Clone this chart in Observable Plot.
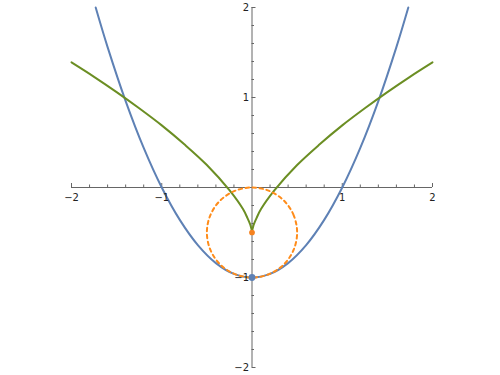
<!DOCTYPE html>
<html><head><meta charset="utf-8">
<script src="https://cdn.jsdelivr.net/npm/d3@7"></script>
<script src="https://cdn.jsdelivr.net/npm/@observablehq/plot@0.6"></script>
<style>body{margin:0;background:#fff}</style>
</head><body><div id="chart"></div>
<script>
// Blue parabola
const parabolaX = [-1.732, -1.6, -1.4, -1.2, -1.0, -0.8, -0.6, -0.4, -0.2, 0, 0.2, 0.4, 0.6, 0.8, 1.0, 1.2, 1.4, 1.6, 1.732];
const parabolaY = [2.0, 1.56, 0.96, 0.44, 0, -0.36, -0.64, -0.84, -0.96, -1, -0.96, -0.84, -0.64, -0.36, 0, 0.44, 0.96, 1.56, 2.0];
// Green curve, right branch (left branch is its mirror)
const greenX = [0, 0.005, 0.01, 0.02, 0.05, 0.1, 0.25, 0.5, 0.75, 1.0, 1.25, 1.5, 1.75, 2.0];
const greenY = [-0.5, -0.465, -0.445, -0.41, -0.34, -0.24, -0.03, 0.25, 0.48, 0.69, 0.88, 1.06, 1.23, 1.39];
// Orange dashed circle points
const circleX = [0.5, 0.462, 0.354, 0.191, 0, -0.191, -0.354, -0.462, -0.5, -0.462, -0.354, -0.191, 0, 0.191, 0.354, 0.462];
const circleY = [-0.5, -0.309, -0.146, -0.038, 0, -0.038, -0.146, -0.309, -0.5, -0.691, -0.854, -0.962, -1, -0.962, -0.854, -0.691];
// Marked points
const pointX = [0, 0];
const pointY = [-1, -0.5];
const pointColor = ["#5e81b5", "#f5821f"];
const pointR = [3.5, 2.5];
// Ticks
const majorTicks = [-2, -1, 1, 2];
const majorLabels = ["\u22122", "\u22121", "1", "2"];
const minorTicks = [-1.8, -1.6, -1.4, -1.2, -0.8, -0.6, -0.4, -0.2, 0.2, 0.4, 0.6, 0.8, 1.2, 1.4, 1.6, 1.8];

const parabola = parabolaX.map((x, i) => ({x, y: parabolaY[i]}));
const green = [
  ...greenX.map((x, i) => ({x: -x, y: greenY[i], b: "L"})),
  ...greenX.map((x, i) => ({x, y: greenY[i], b: "R"}))
];
const circle = circleX.map((x, i) => ({x, y: circleY[i]}));
const points = pointX.map((x, i) => ({x, y: pointY[i], c: pointColor[i], r: pointR[i]}));
const majors = majorTicks.map((v, i) => ({v, label: majorLabels[i]}));

const axisColor = "#666";
const chart = Plot.plot({
  width: 500, height: 375,
  marginLeft: 71, marginRight: 68, marginTop: 7, marginBottom: 8,
  x: {domain: [-2, 2], axis: null},
  y: {domain: [-2, 2], axis: null},
  style: {fontFamily: "DejaVu Sans", fontSize: "10px", background: "#fff"},
  marks: [
    Plot.ruleY([0], {stroke: axisColor, strokeWidth: 1}),
    Plot.ruleX([0], {stroke: axisColor, strokeWidth: 1}),
    Plot.ruleX(majorTicks, {x: d => d, y1: 0, y2: 0, insetTop: -4, stroke: axisColor}),
    Plot.ruleX(minorTicks, {x: d => d, y1: 0, y2: 0, insetTop: -2.5, stroke: axisColor}),
    Plot.ruleY(majorTicks, {y: d => d, x1: 0, x2: 0, insetRight: -4, stroke: axisColor}),
    Plot.ruleY(minorTicks, {y: d => d, x1: 0, x2: 0, insetRight: -2.5, stroke: axisColor}),
    Plot.line(parabola, {x: "x", y: "y", stroke: "#5e81b5", strokeWidth: 2, curve: "catmull-rom"}),
    Plot.line(green, {x: "x", y: "y", z: "b", stroke: "#6b8e23", strokeWidth: 2, curve: "catmull-rom"}),
    Plot.line(circle, {x: "x", y: "y", stroke: "#ff8c1a", strokeWidth: 2, strokeDasharray: "3.5,3.5", curve: "catmull-rom-closed"}),
    Plot.dot(points, {x: "x", y: "y", r: "r", fill: "c", stroke: null}),
    Plot.text(majors, {x: "v", y: 0, text: "label", dy: 10, fill: "#222", textAnchor: "middle"}),
    Plot.text(majors, {x: 0, y: "v", text: "label", dx: -3, fill: "#222", textAnchor: "end"})
  ]
});
chart.setAttribute("style", chart.getAttribute("style") + ";display:block");
document.getElementById("chart").append(chart);
</script>
</body></html>
